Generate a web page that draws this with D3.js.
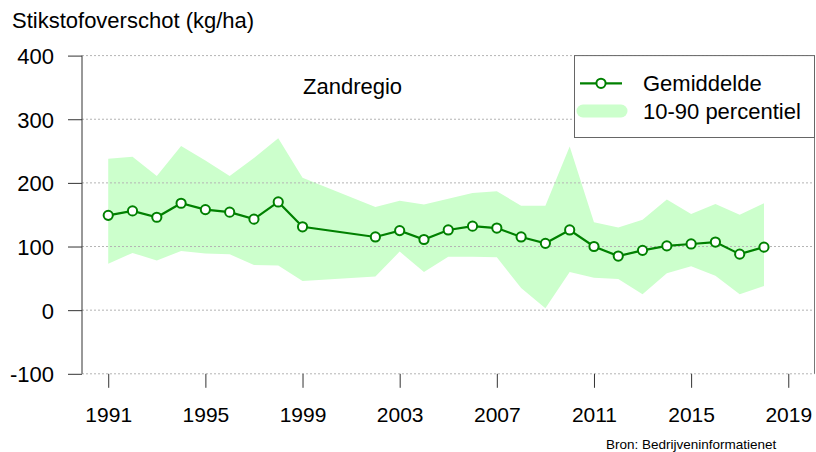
<!DOCTYPE html>
<html>
<head>
<meta charset="utf-8">
<script src="https://cdn.jsdelivr.net/npm/d3@7"></script>
<style>
  html, body { margin: 0; padding: 0; background: #fff; }
  svg { display: block; font-family: "Liberation Sans", Arial, Helvetica, sans-serif; }
</style>
</head>
<body>
<svg id="chart" width="816" height="452"></svg>
<script>
// ---- data ----
const years = [1991,1992,1993,1994,1995,1996,1997,1998,1999,
               2002,2003,2004,2005,2006,2007,2008,2009,2010,
               2011,2012,2013,2014,2015,2016,2017,2018];
const mean  = [149,156,146,168,158,154,143,170,131,
               115,125,111,126,132,129,115,105,126,
               100,85,94,101,104,107,88,99];
const p90   = [238,241,211,258,235,211,239,270,208,
               162,172,166,175,184,187,164,164,257,
               138,130,142,174,151,167,150,168];
const p10   = [73,90,78,93,89,88,71,70,46,
               53,92,60,84,84,83,35,3,60,
               51,49,25,58,69,54,25,38];
const xTicks = [1991,1995,1999,2003,2007,2011,2015,2019];
const yTicks = [-100,0,100,200,300,400];
const title = "Stikstofoverschot (kg/ha)";
const region = "Zandregio";
const legendLabels = ["Gemiddelde", "10-90 percentiel"];
const source = "Bron: Bedrijveninformatienet";

// ---- layout ----
const svg = d3.select("#chart");
const L = 82, R = 814.5, T = 55.6, B = 373.8;
const green = "#008000", band = "#ccffcc";

const x = d3.scaleLinear().domain([1989.92, 2020.08]).range([L, R]);
const y = d3.scaleLinear().domain([-100, 400]).range([B, T]);

const rows = years.map((yr, i) => ({yr, m: mean[i], lo: p10[i], hi: p90[i]}));

// band
svg.append("path")
  .datum(rows)
  .attr("fill", band)
  .attr("d", d3.area().x(d => x(d.yr)).y0(d => y(d.lo)).y1(d => y(d.hi)));

// gridlines
svg.append("g").selectAll("line").data(yTicks).join("line")
  .attr("x1", L).attr("x2", R)
  .attr("y1", d => y(d)).attr("y2", d => y(d))
  .attr("stroke", "#b4b4b4").attr("stroke-width", 1)
  .attr("stroke-dasharray", "2,2");

// right border
svg.append("line").attr("x1", R).attr("x2", R).attr("y1", T).attr("y2", B)
  .attr("stroke", "#777").attr("stroke-width", 1);

// y axis
const yAxis = d3.axisLeft(y).tickValues(yTicks).tickSize(14).tickPadding(14).tickFormat(d => String(d));
const gy = svg.append("g").attr("transform", `translate(${L},0)`).call(yAxis);
gy.select(".domain").attr("stroke", "#333").attr("d", `M0,${T}V${B}`);
gy.selectAll(".tick line").attr("stroke", "#333");
gy.selectAll(".tick text").attr("font-size", 22).attr("fill", "#000")
  .attr("font-family", "'Liberation Sans', Arial, sans-serif").attr("dy", "0.36em");

// x axis
const xAxis = d3.axisBottom(x).tickValues(xTicks).tickSize(14).tickPadding(19).tickFormat(d => String(d));
const gx = svg.append("g").attr("transform", `translate(0,${B})`).call(xAxis);
gx.select(".domain").remove();
gx.selectAll(".tick line").attr("stroke", "#333");
gx.selectAll(".tick text").attr("font-size", 21).attr("fill", "#000")
  .attr("font-family", "'Liberation Sans', Arial, sans-serif");

// mean line
svg.append("path").datum(rows)
  .attr("fill", "none").attr("stroke", green).attr("stroke-width", 2.2)
  .attr("d", d3.line().x(d => x(d.yr)).y(d => y(d.m)));
svg.append("g").selectAll("circle").data(rows).join("circle")
  .attr("cx", d => x(d.yr)).attr("cy", d => y(d.m)).attr("r", 4.6)
  .attr("fill", "#fff").attr("stroke", green).attr("stroke-width", 2);

// title & region label
svg.append("text").attr("x", 12).attr("y", 28).attr("font-size", 22).text(title);
svg.append("text").attr("x", 303).attr("y", 94).attr("font-size", 22).text(region);

// legend
const lg = svg.append("g");
lg.append("rect").attr("x", 574.5).attr("y", T).attr("width", R - 574.5).attr("height", 137.5 - T)
  .attr("fill", "#fff").attr("stroke", "#666").attr("stroke-width", 1);
lg.append("line").attr("x1", 580).attr("x2", 622).attr("y1", 83.3).attr("y2", 83.3)
  .attr("stroke", green).attr("stroke-width", 2.2);
lg.append("circle").attr("cx", 601).attr("cy", 83.3).attr("r", 4.6)
  .attr("fill", "#fff").attr("stroke", green).attr("stroke-width", 2);
lg.append("rect").attr("x", 576.5).attr("y", 104.5).attr("width", 51).attr("height", 13).attr("rx", 6.5)
  .attr("fill", band);
lg.selectAll("text.lab").data(legendLabels).join("text").attr("class", "lab")
  .attr("x", 643).attr("y", (d, i) => 83.3 + i * 28).attr("dy", "0.36em")
  .attr("font-size", 22).text(d => d);

// source
svg.append("text").attr("x", 606).attr("y", 449).attr("font-size", 13.5).attr("fill", "#000").text(source);
</script>
</body>
</html>
